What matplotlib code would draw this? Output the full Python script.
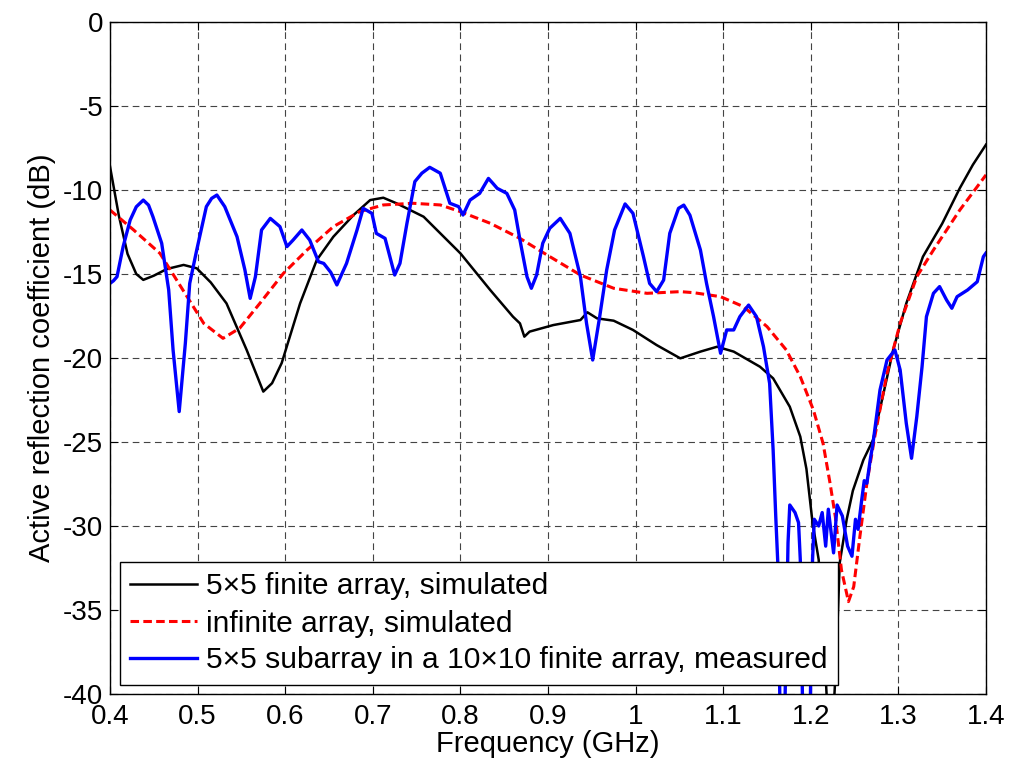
import matplotlib
matplotlib.use("Agg")
import matplotlib.pyplot as plt
import numpy as np

plt.rcParams['font.family'] = ['Liberation Sans', 'DejaVu Sans']
plt.rcParams['axes.unicode_minus'] = False

# 5x5 finite array, simulated
f_fin = [0.400, 0.410, 0.420, 0.430, 0.438, 0.450, 0.465, 0.484, 0.499, 0.515, 0.533,
         0.556, 0.575, 0.585, 0.596, 0.617, 0.636, 0.655, 0.678, 0.697, 0.712, 0.727,
         0.758, 0.800, 0.834, 0.860, 0.868, 0.873, 0.879, 0.906, 0.937, 0.945, 0.956,
         0.975, 0.997, 1.024, 1.051, 1.074, 1.093, 1.112, 1.142, 1.157, 1.176, 1.188,
         1.195, 1.202, 1.209, 1.216, 1.219, 1.226, 1.229, 1.233, 1.241, 1.248, 1.260,
         1.271, 1.283, 1.294, 1.309, 1.328, 1.350, 1.370, 1.385, 1.400]
s_fin = [-8.6, -11.5, -13.8, -15.0, -15.35, -15.1, -14.7, -14.46, -14.66, -15.5, -16.75,
         -19.52, -22.0, -21.5, -20.3, -16.75, -14.17, -12.78, -11.49, -10.6, -10.46, -10.79,
         -11.59, -13.77, -15.95, -17.54, -17.94, -18.73, -18.43, -18.04, -17.74, -17.28, -17.64,
         -17.78, -18.33, -19.23, -20.02, -19.62, -19.33, -19.62, -20.52, -21.21, -22.9, -24.68,
         -26.6, -29.8, -32.0, -38.0, -41.0, -41.0, -38.0, -32.2, -29.6, -27.9, -26.07,
         -24.88, -22.1, -19.52, -16.75, -13.97, -12.0, -9.9, -8.5, -7.3]

# infinite array, simulated
f_inf = [0.400, 0.427, 0.457, 0.488, 0.507, 0.529, 0.548, 0.571, 0.598, 0.625, 0.655,
         0.685, 0.712, 0.746, 0.777, 0.800, 0.834, 0.868, 0.899, 0.937, 0.975, 1.013,
         1.051, 1.066, 1.097, 1.123, 1.150, 1.172, 1.188, 1.203, 1.214, 1.222, 1.228,
         1.235, 1.243, 1.249, 1.256, 1.264, 1.273, 1.287, 1.302, 1.321, 1.340, 1.370,
         1.400]
s_inf = [-11.19, -12.38, -13.77, -16.35, -17.94, -18.83, -18.23, -16.75, -14.96, -13.57, -12.18,
         -11.29, -10.89, -10.79, -10.89, -11.29, -11.98, -12.88, -13.87, -15.06, -15.85, -16.15,
         -16.05, -16.11, -16.35, -16.94, -18.13, -19.52, -21.11, -23.1, -25.08, -27.46, -29.44,
         -32.62, -34.5, -33.61, -30.64, -27.46, -24.68, -20.91, -17.94, -15.16, -13.57, -11.2,
         -9.1]

# 5x5 subarray in a 10x10 finite array, measured
f_meas = [0.400, 0.404, 0.408, 0.415, 0.423, 0.430, 0.438, 0.444, 0.449, 0.459, 0.467,
          0.472, 0.479, 0.486, 0.491, 0.499, 0.510, 0.516, 0.522, 0.531, 0.545, 0.554,
          0.560, 0.566, 0.573, 0.583, 0.594, 0.602, 0.609, 0.619, 0.628, 0.638, 0.644,
          0.652, 0.659, 0.670, 0.682, 0.689, 0.699, 0.704, 0.714, 0.725, 0.731, 0.739,
          0.748, 0.756, 0.765, 0.777, 0.788, 0.798, 0.803, 0.811, 0.822, 0.832, 0.837,
          0.842, 0.853, 0.862, 0.868, 0.876, 0.881, 0.887, 0.894, 0.902, 0.914, 0.925,
          0.937, 0.944, 0.951, 0.959, 0.967, 0.976, 0.988, 0.997, 1.009, 1.016, 1.024,
          1.032, 1.039, 1.049, 1.055, 1.062, 1.074, 1.081, 1.089, 1.097, 1.104, 1.112,
          1.119, 1.129, 1.138, 1.146, 1.153, 1.157, 1.160, 1.163, 1.165, 1.170, 1.174,
          1.176, 1.182, 1.186, 1.188, 1.191, 1.199, 1.202, 1.204, 1.209, 1.213, 1.217,
          1.220, 1.226, 1.230, 1.236, 1.242, 1.247, 1.251, 1.254, 1.258, 1.261, 1.264,
          1.268, 1.271, 1.279, 1.287, 1.296, 1.302, 1.309, 1.315, 1.321, 1.327, 1.332,
          1.340, 1.347, 1.355, 1.361, 1.367, 1.379, 1.390, 1.397, 1.400]
s_meas = [-15.56, -15.4, -15.16, -13.37, -11.79, -11.0, -10.6, -10.9, -11.59, -13.17, -15.95,
          -19.52, -23.19, -19.13, -15.56, -13.57, -10.99, -10.5, -10.3, -10.99, -12.78, -14.76,
          -16.45, -15.16, -12.38, -11.69, -12.18, -13.37, -12.98, -12.38, -12.98, -14.27, -14.37,
          -14.9, -15.65, -14.37, -12.38, -11.09, -11.39, -12.58, -12.88, -15.06, -14.37, -11.98,
          -9.5, -9.0, -8.65, -9.0, -10.79, -10.99, -11.49, -10.6, -10.2, -9.31, -9.6,
          -9.9, -10.2, -11.19, -12.98, -15.16, -15.85, -15.06, -13.17, -12.28, -11.69, -12.58,
          -15.16, -17.94, -20.12, -17.54, -14.76, -12.38, -10.83, -11.39, -13.97, -15.56, -16.05,
          -15.36, -12.58, -11.09, -10.9, -11.5, -13.57, -15.56, -17.54, -19.72, -18.33, -18.33,
          -17.54, -16.85, -17.54, -19.33, -21.51, -25.48, -29.44, -33.0, -42.0, -42.0, -31.0,
          -28.75, -29.2, -29.8, -32.0, -42.0, -42.0, -32.0, -29.6, -30.0, -29.2, -31.2,
          -29.0, -31.6, -28.75, -29.4, -31.2, -31.8, -29.6, -30.2, -28.5, -27.3, -27.46,
          -26.0, -25.08, -21.9, -20.12, -19.52, -20.71, -23.89, -25.97, -23.49, -20.52, -17.54,
          -16.15, -15.75, -16.55, -17.04, -16.35, -15.95, -15.46, -13.97, -13.75]

xticks = [0.4, 0.5, 0.6, 0.7, 0.8, 0.9, 1.0, 1.1, 1.2, 1.3, 1.4]
xticklabels = ['0.4', '0.5', '0.6', '0.7', '0.8', '0.9', '1', '1.1', '1.2', '1.3', '1.4']
yticks = [-40, -35, -30, -25, -20, -15, -10, -5, 0]

fig = plt.figure(figsize=(10.12, 7.69), dpi=100)
ax = fig.add_axes([110 / 1012, 1 - 694 / 769, 876 / 1012, 672 / 769])

ax.plot(f_fin, s_fin, color='black', lw=1.8, label='5\u00d75 finite array, simulated')
ax.plot(f_inf, s_inf, color='red', lw=2.2, ls=(0, (2.8, 1.4)), label='infinite array, simulated')
ax.plot(f_meas, s_meas, color='blue', lw=2.4, label='5\u00d75 subarray in a 10\u00d710 finite array, measured')

ax.set_xlim(0.4, 1.4)
ax.set_ylim(-40, 0)
ax.set_xticks(xticks)
ax.set_xticklabels(xticklabels)
ax.set_yticks(yticks)
ax.tick_params(direction='in', length=6, width=0.8, top=True, right=True, labelsize=20)
ax.tick_params(axis='x', pad=7)
ax.tick_params(axis='y', pad=5)
ax.grid(True, color='#444444', ls=(0, (6, 4)), lw=0.8)
for sp in ax.spines.values():
    sp.set_linewidth(1.0)

ax.set_xlabel('Frequency (GHz)', fontsize=21, labelpad=0)
ax.set_ylabel('Active reflection coefficient (dB)', fontsize=21, labelpad=5)

leg = ax.legend(loc='lower left', bbox_to_anchor=(120 / 1012, 1 - 685 / 769),
                bbox_transform=fig.transFigure, borderaxespad=0, fontsize=21.6,
                fancybox=False, framealpha=1, edgecolor='black', handlelength=2.2,
                handletextpad=0.3, labelspacing=0.3, borderpad=0.35)
leg.get_frame().set_linewidth(1.0)

fig.savefig('out.png', dpi=100)
